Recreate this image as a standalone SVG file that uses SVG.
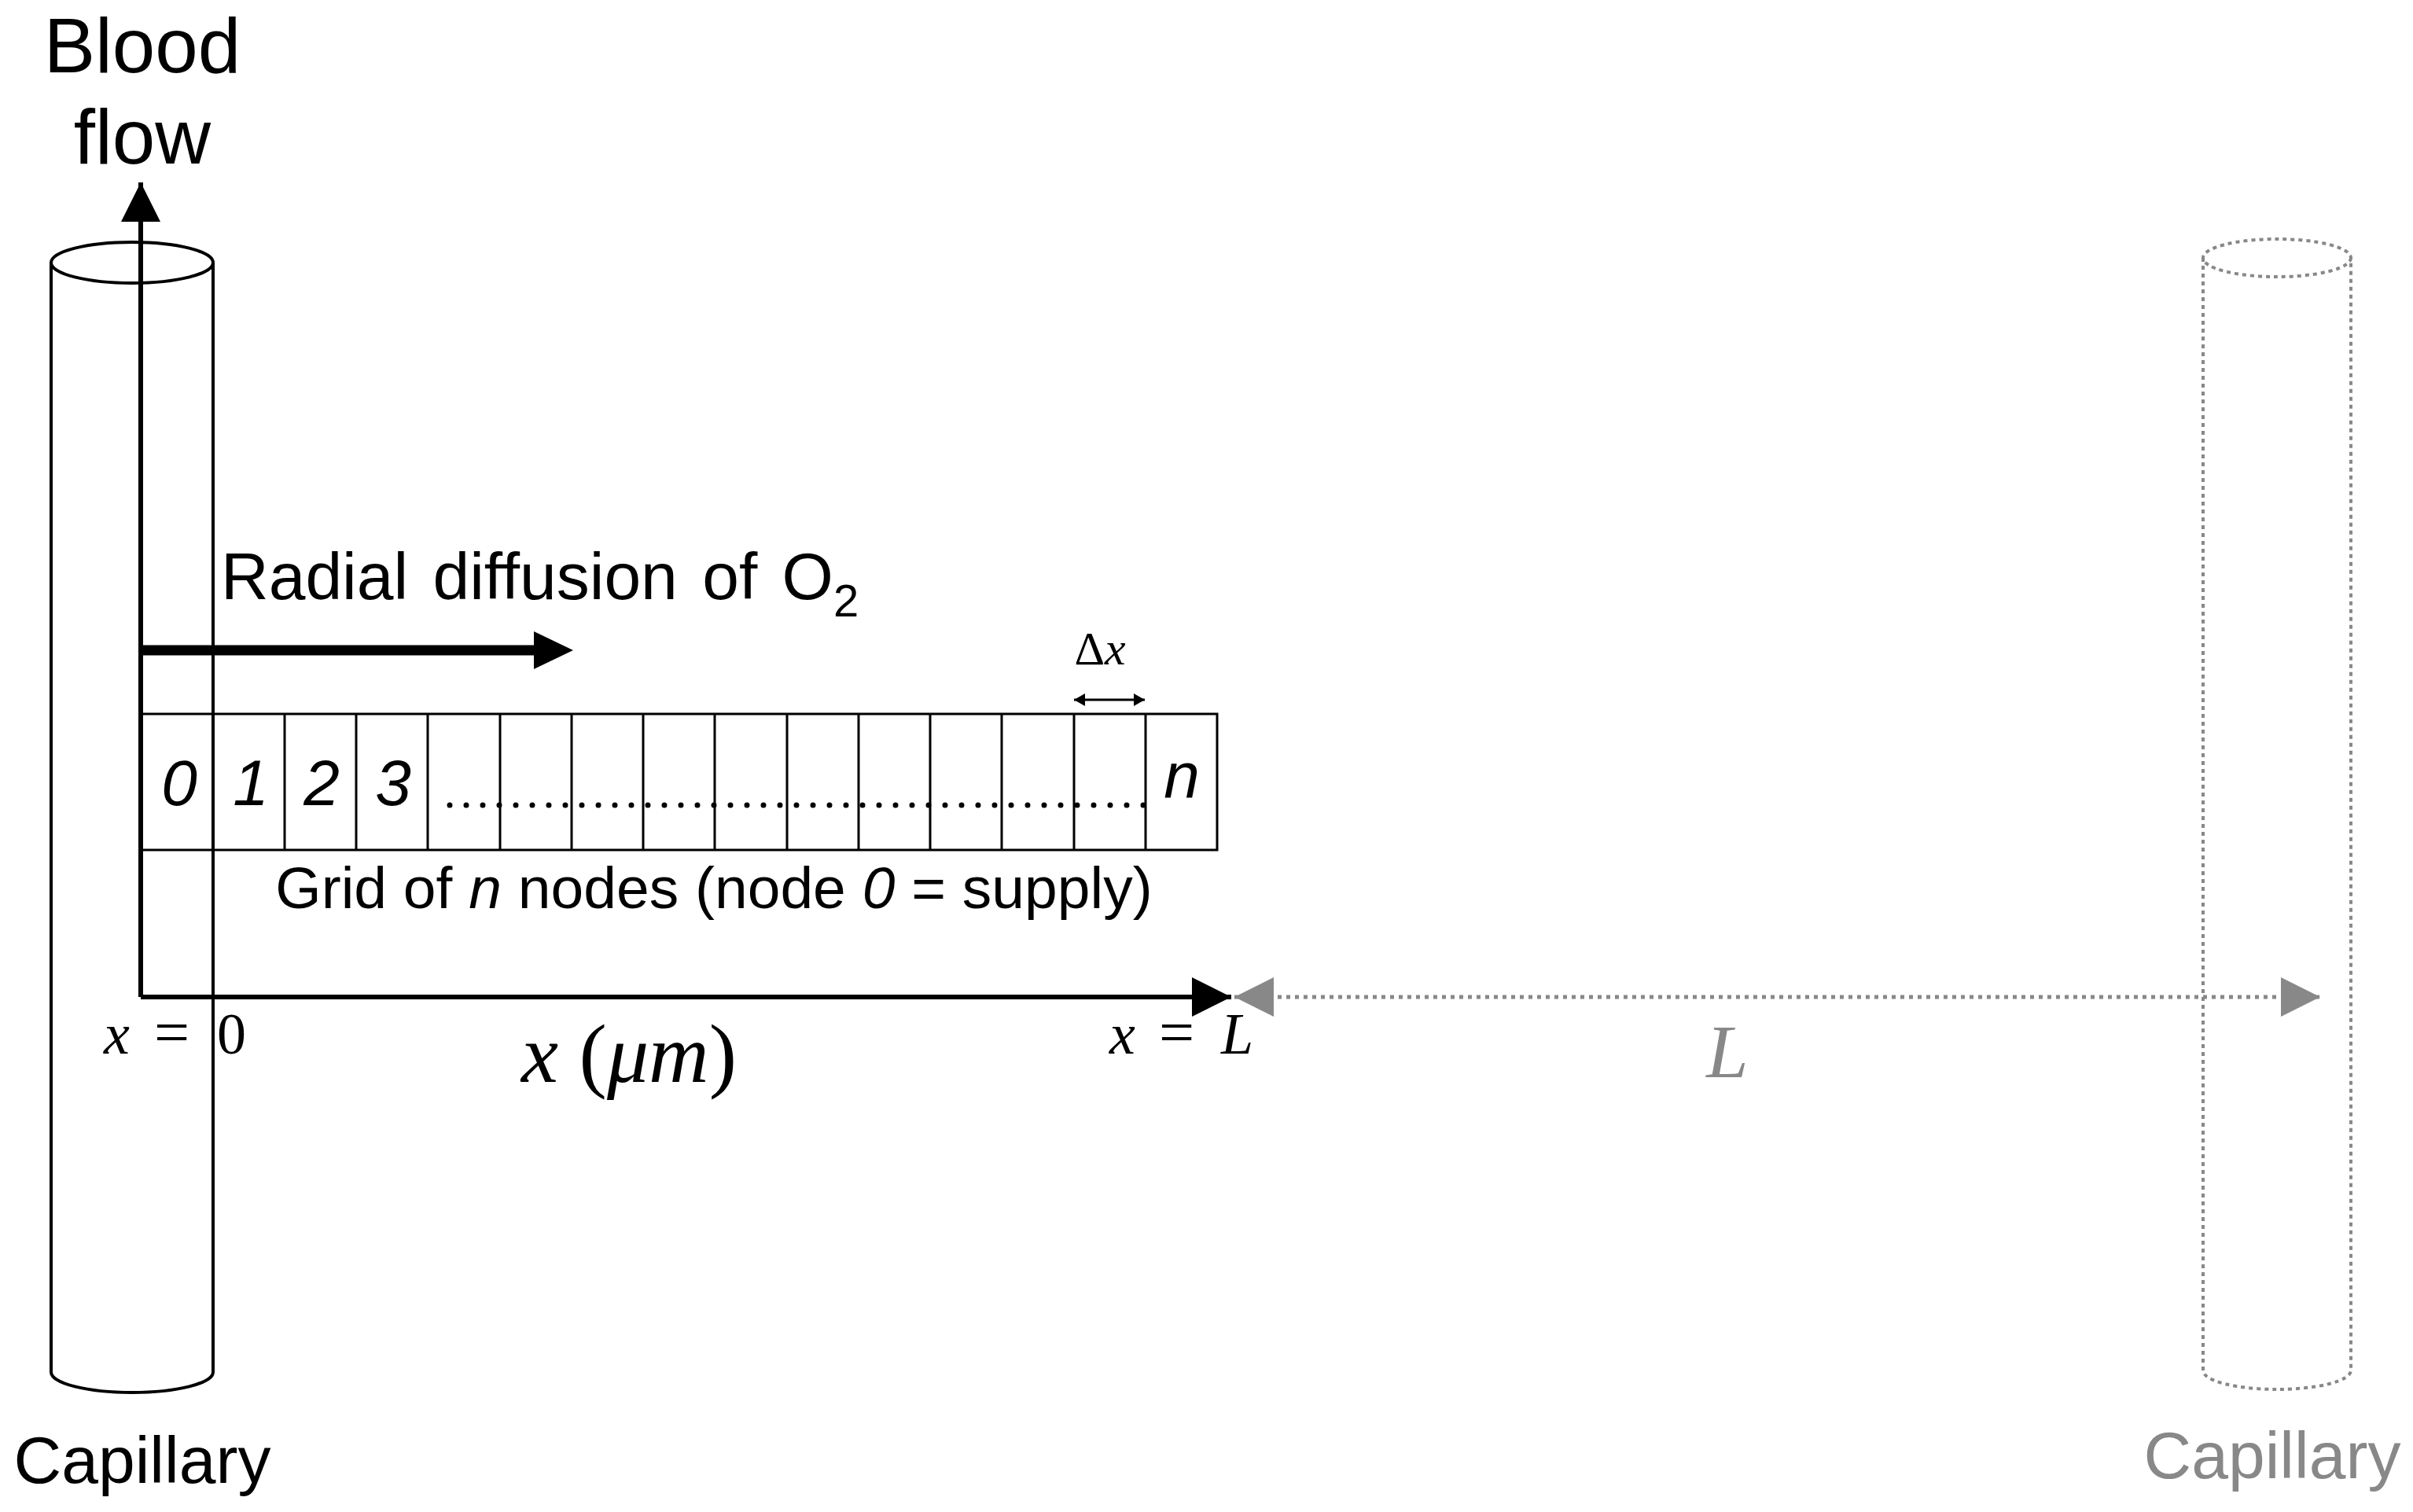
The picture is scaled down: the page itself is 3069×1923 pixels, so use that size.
<svg xmlns="http://www.w3.org/2000/svg" width="3069" height="1923" viewBox="0 0 3069 1923">
<defs>
<style>
.s{font-family:"Liberation Sans",Arial,sans-serif;fill:#000}
.m{font-family:"Liberation Serif","DejaVu Serif",serif;font-style:italic;fill:#000}
.u{font-family:"Liberation Serif","DejaVu Serif",serif;font-style:normal;fill:#000}
.g{fill:#888}
.cell{fill:none;stroke:#000;stroke-width:3}
</style>
<marker id="ah" markerUnits="userSpaceOnUse" markerWidth="60" markerHeight="60" refX="50" refY="25" orient="auto"><path d="M0,0 L50,25 L0,50 Z" fill="#000"/></marker>
<marker id="ahg" markerUnits="userSpaceOnUse" markerWidth="60" markerHeight="60" refX="50" refY="25" orient="auto-start-reverse"><path d="M0,0 L50,25 L0,50 Z" fill="#888"/></marker>
<marker id="sm" markerUnits="userSpaceOnUse" markerWidth="20" markerHeight="20" refX="14" refY="8" orient="auto-start-reverse"><path d="M0,0 L14,8 L0,16 Z" fill="#000"/></marker>
</defs>
<rect width="3069" height="1923" fill="#fff"/>

<g id="capillary-left">
<path d="M65,334 L65,1745 A103,26 0 0 0 271,1745 L271,334" fill="none" stroke="#000" stroke-width="4"/>
<ellipse cx="168" cy="334" rx="103" ry="26" fill="none" stroke="#000" stroke-width="4"/>
<text class="s" x="181" y="1886" font-size="84" text-anchor="middle">Capillary</text>
</g>

<g id="capillary-right">
<path d="M2802,328 L2802,1743 A94,24 0 0 0 2990,1743 L2990,328" fill="none" stroke="#888" stroke-width="4" stroke-dasharray="5 5"/>
<ellipse cx="2896" cy="328" rx="94" ry="24" fill="none" stroke="#888" stroke-width="4" stroke-dasharray="5 5"/>
<text class="s g" x="2890" y="1880" font-size="84" text-anchor="middle">Capillary</text>
</g>

<g id="blood-flow-label">
<text class="s" x="181" y="92" font-size="98" text-anchor="middle">Blood</text>
<text class="s" x="181" y="208" font-size="98" text-anchor="middle">flow</text>
</g>

<g id="radial-label">
<text class="s" x="281" y="762" font-size="84" word-spacing="8">Radial diffusion of O<tspan font-size="58" dy="22">2</tspan></text>
</g>

<g id="grid">
<rect class="cell" x="179" y="908" width="1369" height="173"/>
<path class="cell" d="M271,908V1081M362,908V1081M453,908V1081M544,908V1081M636,908V1081M727,908V1081M818,908V1081M909,908V1081M1001,908V1081M1092,908V1081M1183,908V1081M1274,908V1081M1366,908V1081M1457,908V1081"/>
<g class="s" font-size="82" font-style="italic" text-anchor="middle">
<text x="228" y="1024">0</text>
<text x="319" y="1024">1</text>
<text x="409" y="1024">2</text>
<text x="500" y="1024">3</text>
<text x="1503" y="1014">n</text>
</g>
<line x1="572" y1="1024" x2="1455" y2="1024" stroke="#000" stroke-width="7" stroke-linecap="round" stroke-dasharray="0 21"/>
<text class="s" x="908" y="1155" font-size="75" text-anchor="middle">Grid of <tspan font-style="italic">n</tspan> nodes (node <tspan font-style="italic">0</tspan> = supply)</text>
</g>

<g id="dx-label">
<text class="u" x="1399" y="845" font-size="60" text-anchor="middle">Δ<tspan font-style="italic">x</tspan></text>
</g>

<g id="axis-labels">
<text class="m" x="132" y="1340" font-size="74">x</text>
<text class="u" x="196" y="1340" font-size="80">=</text>
<text class="u" x="276" y="1340" font-size="74">0</text>
<text class="m" x="800" y="1376" font-size="106" text-anchor="middle">x <tspan font-style="normal">(</tspan>μm<tspan font-style="normal">)</tspan></text>
<text class="m" x="1411" y="1340" font-size="74">x</text>
<text class="u" x="1474" y="1340" font-size="80">=</text>
<text class="m" x="1553" y="1340" font-size="74">L</text>
<text class="m g" x="2197" y="1370" font-size="96" text-anchor="middle">L</text>
</g>

<g id="connectors">
<line x1="179" y1="1268" x2="179" y2="232" stroke="#000" stroke-width="6" marker-end="url(#ah)"/>
<line x1="179" y1="827" x2="700" y2="827" stroke="#000" stroke-width="13"/>
<path d="M679,803 L729,827 L679,851 Z" fill="#000"/>
<line x1="179" y1="1268" x2="1566" y2="1268" stroke="#000" stroke-width="6" marker-end="url(#ah)"/>
<line x1="1570" y1="1268" x2="2951" y2="1268" stroke="#888" stroke-width="5" stroke-dasharray="5 6" marker-start="url(#ahg)" marker-end="url(#ahg)"/>
<line x1="1366" y1="890" x2="1456" y2="890" stroke="#000" stroke-width="3" marker-start="url(#sm)" marker-end="url(#sm)"/>
</g>
</svg>
